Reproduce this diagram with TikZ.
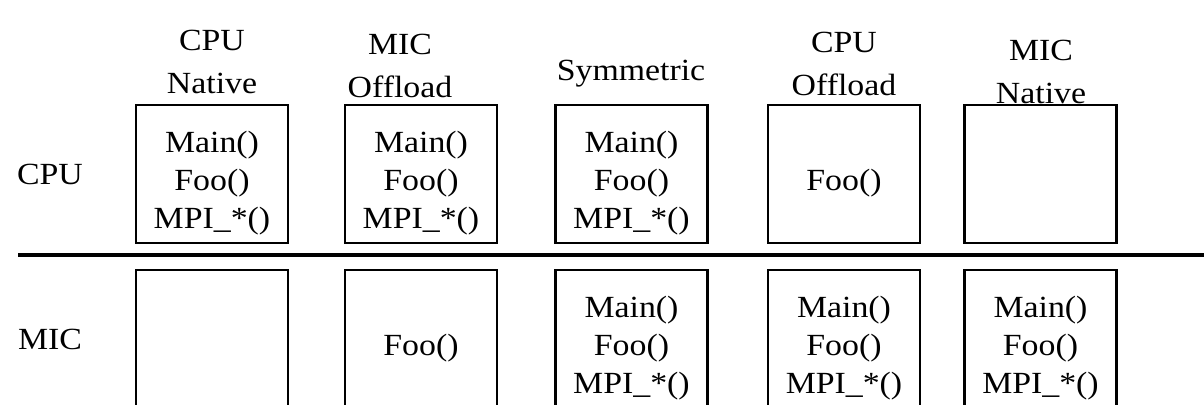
\documentclass[tikz,border=0pt]{standalone}
\usepackage{fontspec}
\setmainfont{Liberation Serif}[FakeStretch=1.1]
\usepackage{tikz}

\tikzset{
  prog/.style={draw, line width=1.6pt, minimum width=3.04cm, minimum height=2.76cm,
    inner sep=0pt, align=center, font=\fontsize{17.5}{21.6}\selectfont},
  head/.style={align=center, inner sep=0pt, font=\fontsize{17.5}{24}\selectfont},
  row/.style={inner sep=0pt, font=\fontsize{17.5}{21.6}\selectfont}
}
% function list, set a little below the box middle
\newcommand{\calls}[1]{\raisebox{-0.18cm}[\height][\depth]{\begin{tabular}{@{}c@{}}#1\end{tabular}}}

\begin{document}
\begin{tikzpicture}[x=0.2mm,y=-0.2mm]
  \clip (0,0) rectangle (1204,405);
  \fill[white] (0,0) rectangle (1204,405);

  % row labels
  \node[row] (rcpu) at (50,174) {CPU};
  \node[row] (rmic) at (50,339) {MIC};

  % execution modes
  \node[head] (h1) at (212,62) {CPU\\Native};
  \node[head] (h2) at (400,66) {MIC\\Offload};
  \node[head] (h3) at (631,74) {Symmetric};
  \node[head] (h4) at (844,64) {CPU\\Offload};
  \node[head] (h5) at (1041,72) {MIC\\Native};

  % host side
  \node[prog] (c1) at (212,174) {\calls{Main()\\Foo()\\MPI\_*()}};
  \node[prog] (c2) at (421,174) {\calls{Main()\\Foo()\\MPI\_*()}};
  \node[prog] (c3) at (631.5,174) {\calls{Main()\\Foo()\\MPI\_*()}};
  \node[prog] (c4) at (844,174) {\calls{Foo()}};
  \node[prog] (c5) at (1040.5,174) {};

  % divider
  \coordinate (dl) at (18,255);
  \coordinate (dr) at (1206,255);
  \draw[line width=1.8pt] (dl) -- (dr);

  % coprocessor side
  \node[prog] (m1) at (212,339) {};
  \node[prog] (m2) at (421,339) {\calls{Foo()}};
  \node[prog] (m3) at (631.5,339) {\calls{Main()\\Foo()\\MPI\_*()}};
  \node[prog] (m4) at (844,339) {\calls{Main()\\Foo()\\MPI\_*()}};
  \node[prog] (m5) at (1040.5,339) {\calls{Main()\\Foo()\\MPI\_*()}};
\end{tikzpicture}
\end{document}
